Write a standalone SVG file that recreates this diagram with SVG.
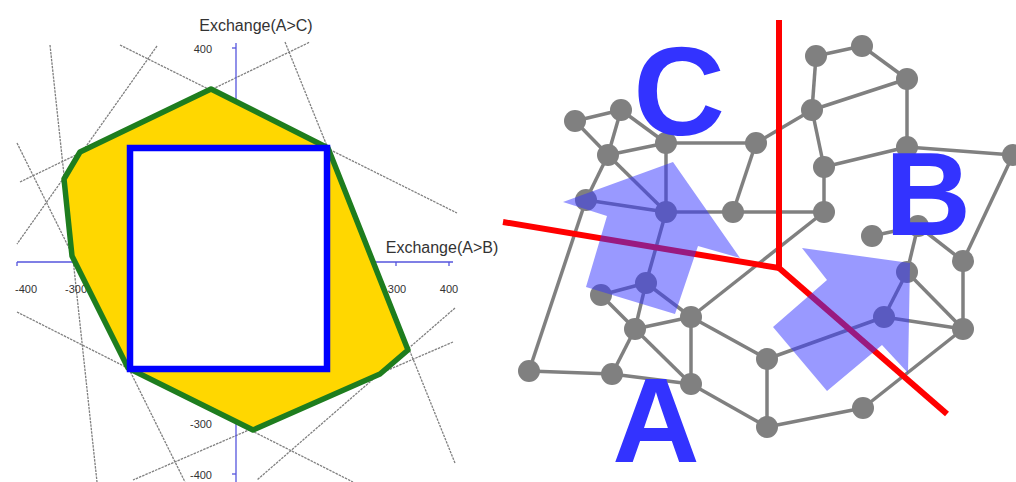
<svg xmlns="http://www.w3.org/2000/svg" width="1016" height="482" viewBox="0 0 1016 482">
<defs>
<style>
.bg{fill:#ffffff}
.cl{stroke:#808080;stroke-width:1.3;stroke-dasharray:2.5 1;fill:none}
.ax{stroke:#5555dd;stroke-width:1.3;fill:none}
.lbl{font-family:"Liberation Sans",Arial,sans-serif;fill:#333;font-size:16px}
.num{font-family:"Liberation Sans",Arial,sans-serif;fill:#333;font-size:11px}
.e{stroke:#808080;stroke-width:3.5;fill:none}
.n{fill:#808080}
.red{stroke:#ff0000;stroke-width:6;fill:none;stroke-linejoin:miter}
.arr{fill:#3333ff;fill-opacity:0.5}
.big{font-family:"Liberation Sans",Arial,sans-serif;font-weight:bold;fill:#3333ff;text-anchor:middle}
</style>
</defs>
<rect class="bg" x="0" y="0" width="1016" height="482"/>

<g id="chart">
  <g id="constraint-lines">
    <line class="cl" x1="120" y1="45" x2="457" y2="213"/>
    <line class="cl" x1="157" y1="46" x2="17" y2="244"/>
    <line class="cl" x1="50" y1="45" x2="97" y2="482"/>
    <line class="cl" x1="20" y1="182" x2="310" y2="42"/>
    <line class="cl" x1="17" y1="143" x2="185" y2="482"/>
    <line class="cl" x1="17" y1="312" x2="353" y2="482"/>
    <line class="cl" x1="455" y1="308" x2="257" y2="480"/>
    <line class="cl" x1="453" y1="342" x2="133" y2="480"/>
    <line class="cl" x1="285" y1="42" x2="455" y2="463"/>
  </g>
  <g id="axes">
    <line class="ax" x1="236" y1="43" x2="236" y2="482"/>
    <line class="ax" x1="232" y1="48" x2="236" y2="48"/>
    <line class="ax" x1="232" y1="474" x2="236" y2="474"/>
    <line class="ax" x1="17" y1="262" x2="453" y2="262"/>
    <line class="ax" x1="17" y1="262" x2="17" y2="266"/>
    <line class="ax" x1="396" y1="262" x2="396" y2="266"/>
    <line class="ax" x1="449" y1="262" x2="449" y2="266"/>
    <text class="lbl" x="256" y="31" text-anchor="middle">Exchange(A&gt;C)</text>
    <text class="lbl" x="442" y="253" text-anchor="middle">Exchange(A&gt;B)</text>
    <text class="num" x="212" y="53" text-anchor="end">400</text>
    <text class="num" x="212" y="428" text-anchor="end">-300</text>
    <text class="num" x="212" y="479" text-anchor="end">-400</text>
    <text class="num" x="26" y="293" text-anchor="middle">-400</text>
    <text class="num" x="76" y="293" text-anchor="middle">-300</text>
    <text class="num" x="397" y="293" text-anchor="middle">300</text>
    <text class="num" x="449" y="293" text-anchor="middle">400</text>
  </g>
  <g id="feasible-region">
    <polygon points="211,89 328,148 408,350 380,374 253,430 128,368 72,256 64,179 80,152" fill="#ffd700" stroke="#1e7d1e" stroke-width="5.5" stroke-linejoin="round"/>
  </g>
  <g id="square">
    <rect x="130" y="148" width="197" height="221" fill="#ffffff" stroke="#0000ff" stroke-width="6.5"/>
  </g>
</g>

<g id="connectors">
  <line class="e" x1="575" y1="121" x2="621" y2="110"/>
  <line class="e" x1="575" y1="121" x2="608" y2="155"/>
  <line class="e" x1="621" y1="110" x2="608" y2="155"/>
  <line class="e" x1="621" y1="110" x2="666" y2="143"/>
  <line class="e" x1="608" y1="155" x2="666" y2="143"/>
  <line class="e" x1="608" y1="155" x2="586" y2="200"/>
  <line class="e" x1="608" y1="155" x2="666" y2="212"/>
  <line class="e" x1="666" y1="143" x2="666" y2="212"/>
  <line class="e" x1="666" y1="143" x2="756" y2="143"/>
  <line class="e" x1="586" y1="200" x2="666" y2="212"/>
  <line class="e" x1="586" y1="200" x2="529" y2="371"/>
  <line class="e" x1="666" y1="212" x2="733" y2="212"/>
  <line class="e" x1="733" y1="212" x2="756" y2="143"/>
  <line class="e" x1="733" y1="212" x2="824" y2="212"/>
  <line class="e" x1="666" y1="212" x2="646" y2="283"/>
  <line class="e" x1="756" y1="143" x2="812" y2="110"/>
  <line class="e" x1="812" y1="110" x2="816" y2="56"/>
  <line class="e" x1="816" y1="56" x2="862" y2="46"/>
  <line class="e" x1="862" y1="46" x2="907" y2="79"/>
  <line class="e" x1="907" y1="79" x2="812" y2="110"/>
  <line class="e" x1="907" y1="79" x2="907" y2="147"/>
  <line class="e" x1="812" y1="110" x2="824" y2="167"/>
  <line class="e" x1="824" y1="167" x2="907" y2="147"/>
  <line class="e" x1="907" y1="147" x2="1013" y2="155"/>
  <line class="e" x1="824" y1="167" x2="824" y2="212"/>
  <line class="e" x1="824" y1="212" x2="691" y2="317"/>
  <line class="e" x1="1013" y1="155" x2="963" y2="261"/>
  <line class="e" x1="872" y1="236" x2="918" y2="226"/>
  <line class="e" x1="918" y1="226" x2="907" y2="272"/>
  <line class="e" x1="918" y1="226" x2="963" y2="261"/>
  <line class="e" x1="907" y1="272" x2="884" y2="317"/>
  <line class="e" x1="907" y1="272" x2="963" y2="329"/>
  <line class="e" x1="963" y1="261" x2="963" y2="329"/>
  <line class="e" x1="884" y1="317" x2="963" y2="329"/>
  <line class="e" x1="884" y1="317" x2="767" y2="359"/>
  <line class="e" x1="963" y1="329" x2="863" y2="408"/>
  <line class="e" x1="863" y1="408" x2="767" y2="427"/>
  <line class="e" x1="767" y1="359" x2="767" y2="427"/>
  <line class="e" x1="691" y1="317" x2="767" y2="359"/>
  <line class="e" x1="691" y1="384" x2="767" y2="427"/>
  <line class="e" x1="691" y1="317" x2="691" y2="384"/>
  <line class="e" x1="635" y1="329" x2="691" y2="317"/>
  <line class="e" x1="635" y1="329" x2="691" y2="384"/>
  <line class="e" x1="635" y1="329" x2="612" y2="374"/>
  <line class="e" x1="635" y1="329" x2="646" y2="283"/>
  <line class="e" x1="601" y1="295" x2="635" y2="329"/>
  <line class="e" x1="601" y1="295" x2="646" y2="283"/>
  <line class="e" x1="646" y1="283" x2="691" y2="317"/>
  <line class="e" x1="529" y1="371" x2="612" y2="374"/>
  <line class="e" x1="612" y1="374" x2="691" y2="384"/>
</g>

<g id="nodes">
  <circle id="n1" class="n" cx="575" cy="121" r="11"/>
  <circle id="n2" class="n" cx="621" cy="110" r="11"/>
  <circle id="n3" class="n" cx="608" cy="155" r="11"/>
  <circle id="n4" class="n" cx="666" cy="143" r="11"/>
  <circle id="n5" class="n" cx="756" cy="143" r="11"/>
  <circle id="n6" class="n" cx="586" cy="200" r="11"/>
  <circle id="n7" class="n" cx="666" cy="212" r="11"/>
  <circle id="n8" class="n" cx="733" cy="212" r="11"/>
  <circle id="n9" class="n" cx="816" cy="56" r="11"/>
  <circle id="n10" class="n" cx="862" cy="46" r="11"/>
  <circle id="n11" class="n" cx="907" cy="79" r="11"/>
  <circle id="n12" class="n" cx="812" cy="110" r="11"/>
  <circle id="n13" class="n" cx="824" cy="167" r="11"/>
  <circle id="n14" class="n" cx="907" cy="147" r="11"/>
  <circle id="n15" class="n" cx="1013" cy="155" r="11"/>
  <circle id="n16" class="n" cx="824" cy="212" r="11"/>
  <circle id="n17" class="n" cx="872" cy="236" r="11"/>
  <circle id="n18" class="n" cx="918" cy="226" r="11"/>
  <circle id="n19" class="n" cx="907" cy="272" r="11"/>
  <circle id="n20" class="n" cx="963" cy="261" r="11"/>
  <circle id="n21" class="n" cx="884" cy="317" r="11"/>
  <circle id="n22" class="n" cx="963" cy="329" r="11"/>
  <circle id="n23" class="n" cx="767" cy="359" r="11"/>
  <circle id="n24" class="n" cx="863" cy="408" r="11"/>
  <circle id="n25" class="n" cx="767" cy="427" r="11"/>
  <circle id="n26" class="n" cx="601" cy="295" r="11"/>
  <circle id="n27" class="n" cx="646" cy="283" r="11"/>
  <circle id="n28" class="n" cx="635" cy="329" r="11"/>
  <circle id="n29" class="n" cx="691" cy="317" r="11"/>
  <circle id="n30" class="n" cx="529" cy="371" r="11"/>
  <circle id="n31" class="n" cx="612" cy="374" r="11"/>
  <circle id="n32" class="n" cx="691" cy="384" r="11"/>
</g>

<g id="partition">
  <polyline class="red" points="779,20 779,268 503,222"/>
  <line class="red" x1="779" y1="268" x2="947" y2="414"/>
</g>

<g id="arrows">
  <polygon class="arr" points="673,162 740,258 698,246 675,314 586,287 607,216 563,202"/>
  <polygon class="arr" points="910,263 908,373 882,345 827,391 773,327 827,280 802,248"/>
</g>

<g id="labels">
  <text class="big" x="679" y="135" font-size="127">C</text>
  <text class="big" x="928" y="235" font-size="119">B</text>
  <text class="big" x="656" y="462" font-size="121">A</text>
</g>
</svg>
